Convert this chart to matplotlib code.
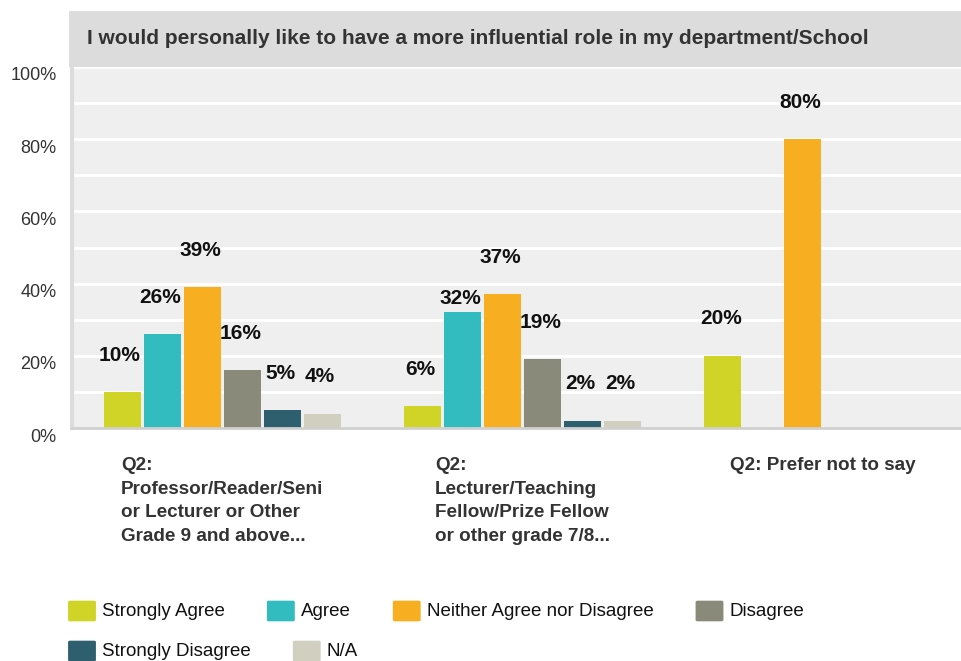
import matplotlib

matplotlib.use("Agg")
import matplotlib.pyplot as plt
import matplotlib.transforms as mtransforms
import numpy as np
from matplotlib.patches import FancyBboxPatch, Rectangle

plt.rcParams["font.family"] = ["Liberation Sans", "DejaVu Sans"]

title = "I would personally like to have a more influential role in my department/School"
groups = [
    "Q2:\nProfessor/Reader/Seni\nor Lecturer or Other\nGrade 9 and above...",
    "Q2:\nLecturer/Teaching\nFellow/Prize Fellow\nor other grade 7/8...",
    "Q2: Prefer not to say",
]
answers = ["Strongly Agree", "Agree", "Neither Agree nor Disagree", "Disagree",
           "Strongly Disagree", "N/A"]
# percent of respondents per answer, one entry per group
strongly_agree = [10, 6, 20]
agree = [26, 32, 0]
neither = [39, 37, 80]
disagree = [16, 19, 0]
strongly_disagree = [5, 2, 0]
not_applicable = [4, 2, 0]
series = [strongly_agree, agree, neither, disagree, strongly_disagree, not_applicable]
colors = ["#d0d426", "#32bcbf", "#f7ae21", "#898a7a", "#2d5f6e", "#d0cfc0"]

W, H = 961, 661
fig = plt.figure(figsize=(W / 100, H / 100), dpi=100)


def fx(px):
    return px / W


def fy(py):
    return 1 - py / H


# header band with the question
fig.patches.append(Rectangle((fx(69), fy(67)), fx(961) - fx(69), fy(11) - fy(67),
                             transform=fig.transFigure, facecolor="#dcdcdc",
                             edgecolor="none", zorder=0))
fig.text(fx(87), fy(39), title, fontsize=15, fontweight="bold", color="#333333",
         va="center", ha="left")

ax = fig.add_axes([fx(72), fy(428), 1 - fx(72), fy(67) - fy(428)])
ax.set_facecolor("#efefef")
ax.set_xlim(-0.5, 2.46)
ax.set_ylim(0, 100)

x = np.arange(len(groups))
step = 0.1333
width = 0.123
for i, (vals, c) in enumerate(zip(series, colors)):
    xs = x + (i - 2.5) * step
    ax.bar(xs, vals, width=width, color=c, zorder=3)
    for xi, v in zip(xs, vals):
        if v <= 0:
            continue
        # the Agree label in the middle group sits lower to clear its neighbour
        dy = 10 if (i == 1 and v == 32) else 26.5
        ax.annotate(f"{v}%", (xi, v), xytext=(-1.5, dy), textcoords="offset points",
                    ha="center", va="center", fontsize=15, fontweight="bold",
                    color="#111111", zorder=4)

ax.set_yticks(np.arange(0, 101, 10), minor=True)
ax.set_yticks(np.arange(0, 101, 20))
ax.set_yticklabels([f"{t}%" for t in range(0, 101, 20)])
ax.grid(axis="y", which="both", color="white", linewidth=2, zorder=1)
ax.tick_params(axis="y", which="both", length=0, pad=11, labelsize=13,
               labelcolor="#333333")
# y labels hang a little below their gridlines
shift = mtransforms.ScaledTranslation(0, -0.07, fig.dpi_scale_trans)
for lab in ax.get_yticklabels():
    lab.set_transform(lab.get_transform() + shift)

ax.set_xticks(x)
ax.set_xticklabels(groups, fontsize=13.6, fontweight="bold", color="#333333",
                   linespacing=1.5, multialignment="left", va="top")
ax.tick_params(axis="x", length=0, pad=21)

for s in ["top", "right"]:
    ax.spines[s].set_visible(False)
ax.spines["left"].set_color("#dcdcdc")
ax.spines["left"].set_linewidth(3)
ax.spines["bottom"].set_color("#d0d0d0")
ax.spines["bottom"].set_linewidth(2)
ax.spines["bottom"].set_zorder(5)

# legend laid out as a wrapping row of swatches
fig.canvas.draw()
renderer = fig.canvas.get_renderer()
lx, ly = 68, 611
for name, c in zip(answers, colors):
    t = fig.text(0, 0, name, fontsize=13.5, color="#111111", va="center", ha="left")
    tw = t.get_window_extent(renderer).width
    if lx + 34 + tw > W:
        lx, ly = 68, ly + 40
    fig.patches.append(FancyBboxPatch((fx(lx + 2), fy(ly + 9)), fx(24), fy(0) - fy(18),
                                      boxstyle="round,pad=0.002",
                                      transform=fig.transFigure, facecolor=c,
                                      edgecolor="none"))
    t.set_position((fx(lx + 34), fy(ly)))
    lx += 34 + tw + 42

fig.savefig("out.png", dpi=100)
